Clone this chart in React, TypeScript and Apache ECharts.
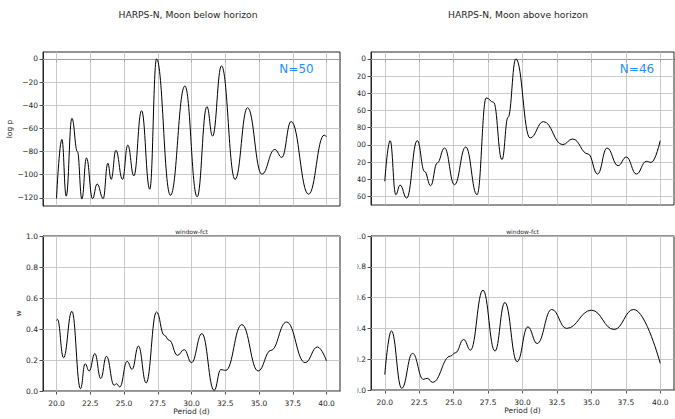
import React, { useEffect, useRef } from "react";
import * as echarts from "echarts";

// Tick positions shared by the panels
const periodTicks = [20, 22.5, 25, 27.5, 30, 32.5, 35, 37.5, 40];
const logPTicksBelow = [0, -20, -40, -60, -80, -100, -120];
const logPTicksAbove = [0, -20, -40, -60, -80, -100, -120, -140, -160];
const wTicks = [0, 0.2, 0.4, 0.6, 0.8, 1.0];

// Panel titles and annotations
const titleBelow = "HARPS-N, Moon below horizon";
const titleAbove = "HARPS-N, Moon above horizon";
const countBelow = "N=50";
const countAbove = "N=46";
const windowTitle = "window-fct";

// Periodogram, Moon below horizon: [period (d), log p]
const logPBelow: [number, number][] = [
  [20.0, -120.5], [20.4, -69.5], [20.72, -118.5], [21.14, -51.3], [21.55, -80],
  [21.88, -121], [22.22, -85.4], [22.67, -120.6], [23.01, -108], [23.46, -120.6],
  [23.8, -90], [24.05, -104], [24.4, -79], [24.89, -104], [25.28, -74.4],
  [25.73, -101], [26.3, -44.7], [26.91, -112.5], [27.41, 0], [28.44, -117.7],
  [29.51, -23.4], [30.42, -119], [31.14, -41.2], [31.56, -66.6], [32.22, -6],
  [33.23, -104], [34.15, -42.1], [35.21, -99.5], [36.17, -78.2], [36.69, -85],
  [37.38, -54], [38.67, -116.8], [39.83, -65.8], [40.0, -67.2],
];

// Periodogram, Moon above horizon: [period (d), log p]
const logPAbove: [number, number][] = [
  [20.0, -142.5], [20.39, -95.1], [20.8, -158], [21.11, -146.8], [21.59, -162],
  [22.36, -95.1], [22.89, -131], [23.33, -147.6], [23.81, -121], [24.34, -103.7],
  [25.06, -146.4], [25.88, -102.5], [26.7, -158], [27.37, -45.4], [27.9, -50.5],
  [28.51, -117.3], [28.95, -68], [29.52, 0], [30.55, -92], [31.52, -73],
  [32.92, -99.8], [33.64, -93.2], [34.77, -110.7], [35.45, -134], [36.14, -103.7],
  [36.94, -124.3], [37.54, -114.2], [38.27, -134], [38.99, -119.2], [39.35, -120.4],
  [40.0, -95.1],
];

// Window function, Moon below horizon: [period (d), w]
const windowBelow: [number, number][] = [
  [20.0, 0.456], [20.07, 0.462], [20.52, 0.215], [21.14, 0.514], [21.78, 0.015],
  [22.12, 0.176], [22.42, 0.129], [22.84, 0.241], [23.28, 0.08], [23.7, 0.224],
  [24.27, 0.037], [24.44, 0.047], [24.69, 0.026], [25.23, 0.191], [25.6, 0.14],
  [26.07, 0.29], [26.64, 0.052], [27.41, 0.51], [27.98, 0.36], [28.35, 0.327],
  [28.96, 0.23], [29.46, 0.267], [30.0, 0.183], [30.77, 0.37], [31.68, 0.004],
  [32.17, 0.138], [32.54, 0.133], [33.73, 0.428], [34.94, 0.129], [35.88, 0.262],
  [37.04, 0.445], [38.42, 0.183], [39.33, 0.284], [40.0, 0.194],
];

// Window function, Moon above horizon: [period (d), w]
const windowAbove: [number, number][] = [
  [20.0, 0.1], [20.48, 0.384], [21.23, 0.011], [22.02, 0.238], [22.8, 0.069],
  [23.08, 0.076], [23.47, 0.05], [24.77, 0.22], [25.13, 0.242], [25.73, 0.328],
  [26.22, 0.259], [27.13, 0.648], [28.0, 0.253], [28.72, 0.568], [29.61, 0.184],
  [30.39, 0.41], [31.06, 0.302], [32.12, 0.523], [33.2, 0.4], [35.01, 0.518],
  [36.65, 0.393], [38.07, 0.523], [40.0, 0.173],
];

const FONT = "DejaVu Sans";
const INK = "#262626";
const GRID_LINE = "#bdbdbd";
const TICK_SIZE = 7.5;

const signed = (v: number) => (v < 0 ? "\u2212" + Math.abs(v) : String(v));
const oneDecimal = (v: number) => v.toFixed(1);

const panels = [
  { left: 43, top: 52, width: 297, height: 154 },
  { left: 371, top: 52, width: 303, height: 153 },
  { left: 43, top: 236, width: 297, height: 155 },
  { left: 371, top: 236, width: 303, height: 154 },
];

function xAxisFor(i: number) {
  const bottom = i >= 2;
  return {
    type: "value",
    gridIndex: i,
    min: 19,
    max: 41,
    axisLine: { show: true, lineStyle: { color: INK, width: 1 } },
    axisTick: {
      show: true,
      customValues: periodTicks,
      length: 3.5,
      lineStyle: { color: INK, width: 0.8 },
    },
    axisLabel: {
      show: bottom,
      customValues: periodTicks,
      formatter: oneDecimal,
      fontFamily: FONT,
      fontSize: TICK_SIZE,
      color: INK,
      margin: 8,
    },
    splitLine: { show: false },
    name: bottom ? "Period (d)" : "",
    nameLocation: "middle",
    nameGap: 15,
    nameTextStyle: { fontFamily: FONT, fontSize: TICK_SIZE, color: INK },
  };
}

function yAxisFor(i: number, min: number, max: number, ticks: number[], fmt: (v: number) => string, name: string, gap: number) {
  return {
    type: "value",
    gridIndex: i,
    min,
    max,
    axisLine: { show: true, lineStyle: { color: INK, width: 1 } },
    axisTick: {
      show: true,
      customValues: ticks,
      length: 3.5,
      lineStyle: { color: INK, width: 0.8 },
    },
    axisLabel: {
      show: true,
      customValues: ticks,
      formatter: fmt,
      fontFamily: FONT,
      fontSize: TICK_SIZE,
      color: INK,
      margin: 5,
    },
    splitLine: { show: false },
    name,
    nameLocation: "middle",
    nameRotate: 90,
    nameGap: gap,
    nameTextStyle: { fontFamily: FONT, fontSize: TICK_SIZE, color: INK },
  };
}

function curve(i: number, data: [number, number][], yTicks: number[]) {
  return {
    type: "line",
    xAxisIndex: i,
    yAxisIndex: i,
    data,
    showSymbol: false,
    smooth: 0.45,
    smoothMonotone: "x",
    z: 3,
    lineStyle: { color: "#000", width: 1 },
    markLine: {
      silent: true,
      symbol: "none",
      z: 1,
      label: { show: false },
      lineStyle: { color: GRID_LINE, width: 0.8, type: "solid" },
      data: [
        ...periodTicks.map((x) => ({ xAxis: x })),
        ...yTicks.map((y) => ({ yAxis: y })),
      ],
    },
  };
}

export default function App() {
  const ref = useRef<HTMLDivElement>(null);

  useEffect(() => {
    if (!ref.current) return;
    const chart = echarts.init(ref.current, null, { renderer: "svg" });

    const text = (x: number, y: number, s: string, size: number, color = INK) => ({
      type: "text",
      x,
      y,
      z: 50,
      style: {
        text: s,
        fontFamily: FONT,
        fontSize: size,
        fill: color,
        textAlign: "center",
        textVerticalAlign: "middle",
      },
    });

    chart.setOption({
      animation: false,
      backgroundColor: "#fff",
      grid: panels.map((p) => ({
        ...p,
        show: true,
        borderColor: INK,
        borderWidth: 1,
        containLabel: false,
      })),
      xAxis: [0, 1, 2, 3].map(xAxisFor),
      yAxis: [
        yAxisFor(0, -127, 6, logPTicksBelow, signed, "log p", 28),
        yAxisFor(1, -170, 8, logPTicksAbove, signed, "", 20),
        yAxisFor(2, 0, 1, wTicks, oneDecimal, "w", 18),
        yAxisFor(3, 0, 1, wTicks, oneDecimal, "", 18),
      ],
      series: [
        curve(0, logPBelow, logPTicksBelow),
        curve(1, logPAbove, logPTicksAbove),
        curve(2, windowBelow, wTicks),
        curve(3, windowAbove, wTicks),
      ],
      graphic: [
        // strip where the right-hand tick labels are cut off
        {
          type: "rect",
          z: 40,
          shape: { x: 342, y: 44, width: 15.5, height: 356 },
          style: { fill: "#fff" },
        },
        text(188, 14.5, titleBelow, 9.2),
        text(518, 14.5, titleAbove, 9.2),
        text(296.5, 68.5, countBelow, 12, "#1e90ff"),
        text(637, 68.5, countAbove, 12, "#1e90ff"),
        text(191.5, 231.5, windowTitle, 6),
        text(522.5, 231.5, windowTitle, 6),
      ],
    });

    return () => chart.dispose();
  }, []);

  return (
    <div
      ref={ref}
      style={{ position: "fixed", left: 0, top: 0, width: 675, height: 419, background: "#fff" }}
    />
  );
}
